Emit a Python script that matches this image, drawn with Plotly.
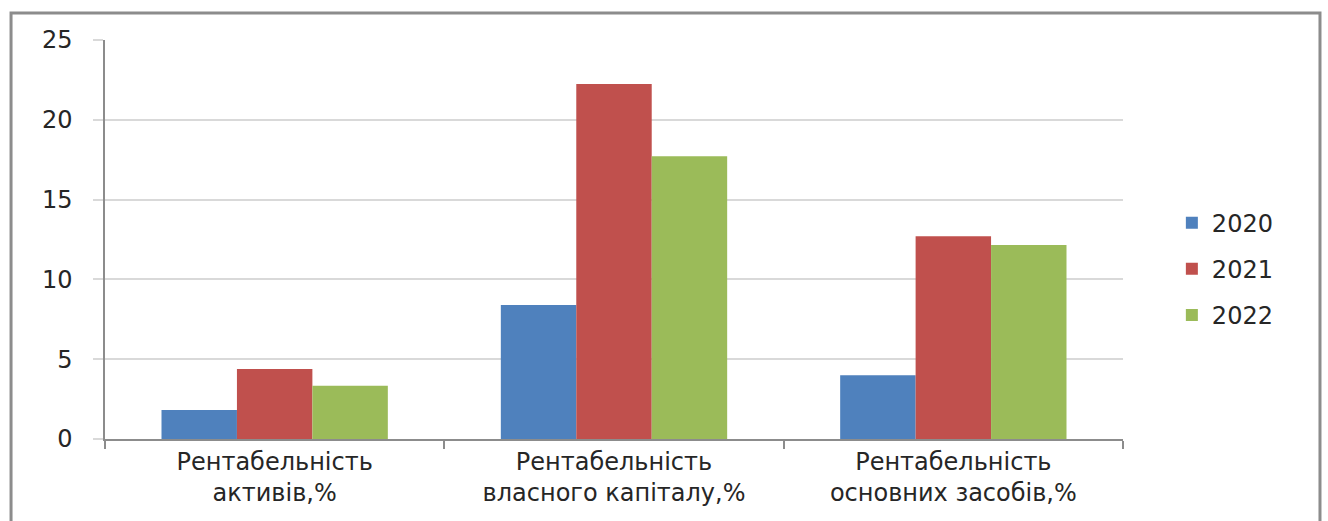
import plotly.graph_objects as go

categories = [
    "Рентабельність<br>активів,%",
    "Рентабельність<br>власного капіталу,%",
    "Рентабельність<br>основних засобів,%",
]
years = ["2020", "2021", "2022"]
values_2020 = [1.82, 8.40, 3.99]
values_2021 = [4.39, 22.24, 12.70]
values_2022 = [3.34, 17.71, 12.16]
y_ticks = [0, 5, 10, 15, 20, 25]

colors = ["#4f81bd", "#c0504d", "#9bbb59"]
series = [values_2020, values_2021, values_2022]

font_family = "DejaVu Sans, Verdana, sans-serif"
text_color = "#262626"
font_size = 24

fig = go.Figure()
for name, vals, col in zip(years, series, colors):
    fig.add_trace(go.Bar(
        x=categories, y=vals, name=name, legendgroup=name,
        marker=dict(color=col, line=dict(width=0)),
    ))

fig.update_layout(
    width=1328, height=521,
    margin=dict(l=105, r=205, t=40, b=82),
    paper_bgcolor="white", plot_bgcolor="white",
    barmode="group", bargap=0.333, bargroupgap=0,
    font=dict(family=font_family, size=font_size, color=text_color),
    showlegend=True,
    legend=dict(
        x=1.048, y=0.426, xanchor="left", yanchor="middle",
        font=dict(size=font_size, color=text_color),
        itemwidth=30, tracegroupgap=12,
        bgcolor="rgba(0,0,0,0)",
    ),
    xaxis=dict(
        showline=True, linecolor="#8c8c8c", linewidth=1.5,
        ticks="outside", tickson="boundaries", ticklen=8,
        tickcolor="#8c8c8c", tickwidth=1.5,
        showgrid=False,
        tickfont=dict(size=font_size, color=text_color),
    ),
    yaxis=dict(
        range=[0, 25], tickvals=y_ticks,
        showline=True, linecolor="#8c8c8c", linewidth=1.5,
        showgrid=True, gridcolor="#d9d9d9", gridwidth=2,
        ticks="outside", ticklen=10, tickcolor="#d9d9d9", tickwidth=2,
        ticklabelstandoff=16,
        zeroline=False,
        tickfont=dict(size=font_size, color=text_color),
    ),
    shapes=[dict(
        type="rect", xref="paper", yref="paper",
        x0=-0.0923, x1=1.1935, y0=-0.25, y1=1.0677,
        line=dict(color="#8c8c8c", width=3),
        layer="below",
    )],
)

fig.write_html("out.html")
